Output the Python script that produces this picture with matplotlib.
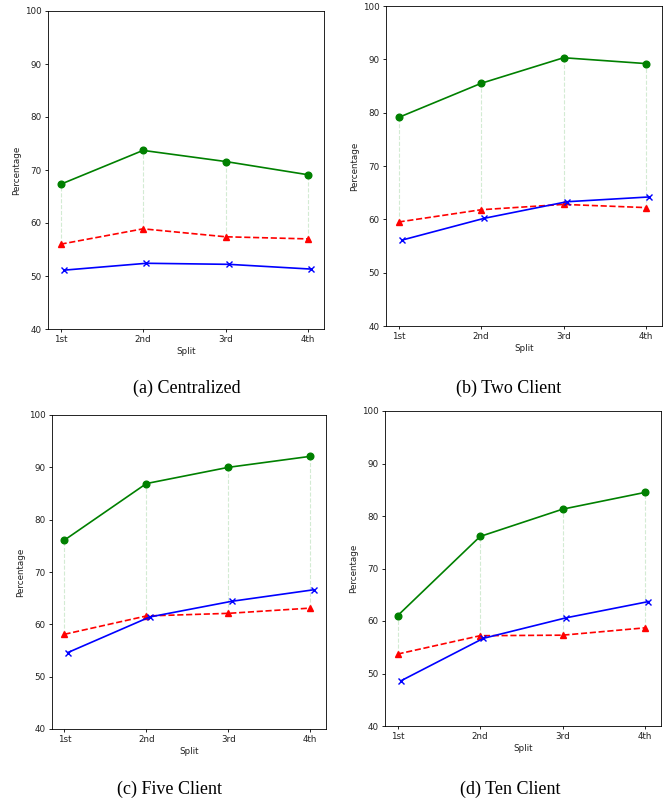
import matplotlib
matplotlib.use("Agg")
import matplotlib.pyplot as plt
import numpy as np

splits = ["1st", "2nd", "3rd", "4th"]
captions = ["(a) Centralized", "(b) Two Client", "(c) Five Client", "(d) Ten Client"]

# green (circle), red dashed (triangle), blue (x) for each panel
green = [
    [67.3, 73.7, 71.6, 69.1],
    [79.1, 85.5, 90.3, 89.2],
    [76.1, 86.9, 90.0, 92.1],
    [61.0, 76.1, 81.3, 84.5],
]
red = [
    [56.0, 58.9, 57.4, 57.0],
    [59.5, 61.8, 62.8, 62.2],
    [58.1, 61.6, 62.1, 63.1],
    [53.7, 57.2, 57.3, 58.7],
]
blue = [
    [51.1, 52.4, 52.2, 51.3],
    [56.1, 60.2, 63.3, 64.2],
    [54.6, 61.4, 64.4, 66.6],
    [48.6, 56.7, 60.6, 63.7],
]

W, H = 663, 802
# axes boxes in pixels: left, top, right, bottom
boxes = [
    (48, 11, 324, 329),
    (386, 6, 662, 326),
    (52, 415, 326, 729),
    (385, 411, 661, 726),
]
cap_pos = [(187, 388), (509, 388), (170, 789), (510, 789)]

fig = plt.figure(figsize=(W / 100, H / 100), dpi=100)

for i in range(4):
    l, t, r, b = boxes[i]
    ax = fig.add_axes([l / W, 1 - b / H, (r - l) / W, (b - t) / H])
    x = np.arange(len(splits))
    ax.vlines(x, red[i], green[i], colors="#c8e6c8", linestyles="--", linewidth=0.8, alpha=0.8)
    ax.plot(x, green[i], color="green", marker="o", markersize=4.8, linewidth=1.2)
    ax.plot(x, red[i], color="red", marker="^", markersize=4.8, linewidth=1.2, linestyle="--")
    ax.plot(x + 0.04, blue[i], color="blue", marker="x", markersize=4.8, linewidth=1.2)
    ax.set_ylim(40, 100)
    ax.set_xticks(x)
    ax.set_xticklabels(splits)
    ax.tick_params(labelsize=6.3, length=2.5, width=0.6, pad=2, labelcolor="#222222")
    ax.set_xlabel("Split", fontsize=6.3, labelpad=2, color="#222222")
    ax.set_ylabel("Percentage", fontsize=6.3, labelpad=3, color="#222222")
    for s in ax.spines.values():
        s.set_linewidth(0.6)
    fig.text(cap_pos[i][0] / W, 1 - cap_pos[i][1] / H, captions[i],
             ha="center", va="center", fontsize=13, family="Liberation Serif")

plt.savefig("out.png", dpi=100)
plt.close()
